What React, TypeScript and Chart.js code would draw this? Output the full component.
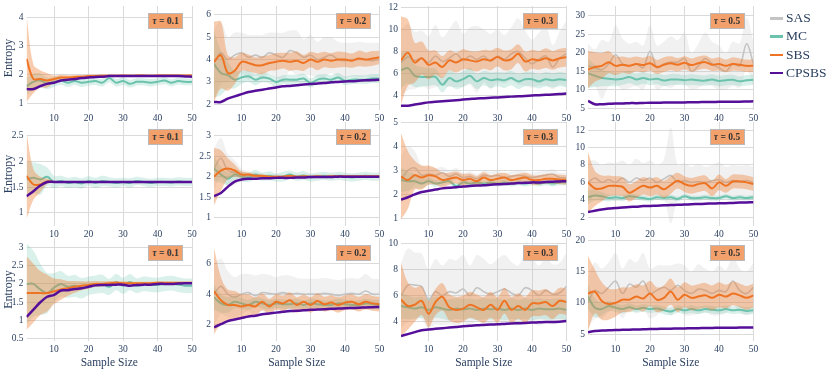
import React, { useEffect, useRef } from 'react';
import { Chart, registerables } from 'chart.js';
Chart.register(...registerables);

// ---------- data ----------
const X = [2, 4, 6, 8, 10, 12, 14, 16, 18, 20, 22, 24, 26, 28, 30, 32, 34, 36, 38, 40, 42, 44, 46, 48, 50];
const X_TICKS = [10, 20, 30, 40, 50];
const TAU = ['0.1', '0.2', '0.3', '0.5'];
const SERIES = ['SAS', 'MC', 'SBS', 'CPSBS'];

const Y_MIN = [0.77, 1.74, 2.71, 4.54, 0.74, 0.79, 0.68, 1.0, 0.445, 0.96, 2.52, 3.88];
const Y_MAX = [4.39, 6.4, 12.12, 32.7, 2.77, 3.34, 5.02, 12.92, 3.25, 7.64, 10.41, 20.4];
const Y_TICKS = [
  [1, 2, 3, 4], [2, 3, 4, 5, 6], [4, 6, 8, 10, 12], [5, 10, 15, 20, 25, 30],
  [1, 1.5, 2, 2.5], [1, 1.5, 2, 2.5, 3], [1, 2, 3, 4, 5], [2, 4, 6, 8, 10, 12],
  [0.5, 1, 1.5, 2, 2.5, 3], [2, 4, 6], [4, 6, 8, 10], [5, 10, 15, 20],
];

const SAS_MEAN = [
  [],
  [3.8, 4.3, 4.0, 4.2, 4.3, 4.1, 4.2, 4.1, 4.3, 4.2, 4.1, 4.4, 4.3, 4.1, 4.2, 4.0, 4.1, 4.2, 4.0, 3.95, 4.0, 4.0, 4.0, 3.95, 4.0],
  [7.0, 7.5, 7.2, 7.4, 7.0, 7.6, 7.1, 7.4, 7.8, 7.2, 7.6, 7.3, 7.6, 7.1, 7.6, 7.3, 7.8, 8.0, 7.4, 6.9, 7.3, 7.6, 6.6, 7.4, 7.8],
  [16.5, 16, 15.5, 17, 19.5, 17, 16.5, 17, 16, 20.5, 16, 17, 17.5, 17.5, 18.5, 15, 16.5, 18.5, 17, 16, 15, 17, 16.5, 22.5, 17],
  [],
  [2.2, 2.45, 2.15, 2.1, 2.05, 2.03, 2.02, 2.02, 2.01, 2.01, 2.01, 2.01, 2.01, 2.01, 2.01, 2.01, 2.01, 2.01, 2.01, 2.01, 2.01, 2.01, 2.01, 2.01, 2.01],
  [2.6, 3.0, 3.1, 2.8, 2.85, 2.8, 2.9, 2.75, 2.85, 2.7, 2.75, 2.65, 2.8, 2.75, 2.8, 2.7, 2.75, 2.8, 2.75, 2.7, 2.75, 2.8, 2.85, 2.7, 2.7],
  [6.0, 6.5, 6.0, 6.3, 6.0, 6.5, 6.0, 6.5, 6.2, 6.5, 6.0, 6.4, 6.8, 6.0, 6.2, 6.0, 6.1, 6.0, 6.2, 6.3, 6.0, 6.2, 6.1, 6.2, 6.0],
  [],
  [4.0, 4.5, 4.0, 3.8, 4.0, 4.1, 3.9, 4.1, 4.05, 4.0, 4.1, 4.0, 4.05, 4.0, 4.0, 4.0, 4.05, 4.0, 3.9, 4.0, 4.05, 4.0, 4.2, 4.0, 4.0],
  [6.0, 6.8, 6.8, 6.7, 5.7, 6.3, 6.0, 6.3, 6.2, 6.5, 6.0, 6.6, 6.3, 6.1, 6.3, 6.5, 6.2, 6.0, 6.6, 6.4, 6.0, 6.4, 6.1, 6.2, 6.7],
  [10, 12, 11.5, 12.5, 13.5, 11.5, 13, 12.5, 13.5, 11.5, 12, 12.5, 12, 12.8, 12, 11.5, 12.2, 12, 11.5, 12, 11.8, 13.5, 12, 11.5, 12.5],
];
const SAS_SPREAD = [
  [],
  [1.6, 1.4, 1.0, 1.0, 0.9, 1.0, 0.9, 1.0, 0.9, 1.0, 1.1, 0.9, 1.0, 0.8, 0.9, 0.8, 0.9, 0.8, 0.8, 0.8, 0.75, 0.8, 0.75, 0.8, 0.75],
  [3.0, 3.0, 2.6, 2.5, 2.4, 2.8, 2.2, 2.6, 3.0, 2.4, 2.6, 3.0, 2.4, 2.5, 2.4, 2.2, 2.4, 3.0, 2.5, 2.2, 2.4, 2.7, 2.0, 2.4, 3.0],
  [6, 5, 8, 6, 8, 7, 6, 6, 6, 7, 6, 6, 7, 6, 7, 5, 6, 7, 6, 6, 5, 6, 6, 7, 6],
  [],
  [0.5, 0.5, 0.4, 0.3, 0.15, 0.1, 0.08, 0.06, 0.05, 0.05, 0.04, 0.04, 0.04, 0.04, 0.04, 0.04, 0.04, 0.04, 0.04, 0.04, 0.04, 0.04, 0.04, 0.04, 0.04],
  [1.0, 1.0, 0.7, 0.4, 0.3, 0.3, 0.25, 0.25, 0.25, 0.2, 0.2, 0.2, 0.2, 0.2, 0.2, 0.2, 0.2, 0.2, 0.2, 0.2, 0.2, 0.2, 0.2, 0.2, 0.2],
  [2.5, 2.0, 2.0, 2.0, 2.2, 2.0, 2.0, 2.2, 2.0, 2.0, 2.0, 2.2, 5.5, 2.0, 2.0, 1.8, 2.0, 1.8, 1.8, 2.0, 1.8, 1.8, 1.8, 1.8, 1.8],
  [],
  [2.0, 1.8, 1.5, 1.3, 1.3, 1.2, 1.3, 1.2, 1.2, 1.1, 1.1, 1.2, 1.0, 1.0, 1.0, 1.0, 1.0, 1.0, 1.0, 1.0, 1.0, 1.0, 1.1, 1.0, 1.0],
  [2.5, 2.8, 2.5, 2.5, 2.3, 2.5, 2.3, 2.5, 2.5, 2.6, 2.3, 2.5, 2.5, 2.3, 2.5, 2.6, 2.4, 2.3, 2.6, 2.5, 2.3, 2.5, 2.3, 2.3, 2.6],
  [4, 4.5, 4, 4, 4.5, 4, 4, 4, 4.5, 4, 4, 3.5, 4, 3.5, 4, 3.5, 4, 3.5, 3.5, 4, 3.5, 4, 3.5, 3.5, 4],
];

const MC_MEAN = [
  [1.6, 1.75, 1.8, 1.7, 1.75, 1.8, 1.72, 1.78, 1.72, 1.75, 1.78, 1.72, 1.88, 1.72, 1.78, 1.68, 1.75, 1.75, 1.72, 1.75, 1.8, 1.72, 1.78, 1.75, 1.75],
  [3.8, 3.4, 3.3, 3.1, 3.2, 3.25, 3.1, 3.2, 3.15, 3.0, 3.1, 3.1, 3.1, 3.15, 2.95, 3.1, 3.15, 3.1, 3.2, 3.05, 3.1, 3.1, 3.1, 3.15, 3.15],
  [6.3, 6.5, 5.8, 5.7, 5.7, 5.7, 5.0, 5.6, 5.3, 5.5, 5.8, 5.3, 5.6, 5.4, 5.5, 5.4, 5.6, 5.3, 5.5, 5.5, 5.3, 5.5, 5.4, 5.5, 5.4],
  [14.5, 13.8, 13.2, 13.0, 12.8, 13.0, 13.5, 12.8, 13.2, 12.8, 13.0, 12.5, 12.8, 12.8, 12.6, 12.8, 12.6, 12.5, 12.8, 12.4, 12.6, 12.7, 12.3, 12.6, 12.7],
  [1.65, 1.68, 1.65, 1.7, 1.6, 1.62, 1.58, 1.6, 1.57, 1.62, 1.58, 1.62, 1.6, 1.58, 1.6, 1.58, 1.62, 1.6, 1.58, 1.6, 1.6, 1.59, 1.61, 1.6, 1.6],
  [2.2, 2.05, 1.95, 2.05, 2.0, 1.98, 2.05, 2.0, 2.02, 1.98, 2.0, 2.05, 2.0, 2.03, 1.98, 2.0, 2.02, 2.0, 2.02, 2.0, 1.98, 2.0, 2.02, 2.0, 2.0],
  [2.6, 2.55, 2.55, 2.45, 2.55, 2.45, 2.5, 2.55, 2.35, 2.5, 2.45, 2.5, 2.45, 2.5, 2.45, 2.5, 2.45, 2.5, 2.45, 2.5, 2.45, 2.5, 2.45, 2.5, 2.5],
  [4.3, 4.5, 4.4, 4.2, 4.3, 4.2, 4.4, 4.3, 4.2, 4.1, 4.3, 4.2, 4.3, 4.1, 4.4, 4.2, 4.2, 4.3, 4.2, 4.2, 4.4, 4.2, 4.3, 4.2, 4.3],
  [2.0, 2.0, 1.85, 1.75, 1.9, 2.0, 1.92, 1.95, 1.88, 1.95, 1.98, 2.0, 1.92, 2.05, 1.95, 2.05, 1.95, 2.0, 1.98, 1.97, 2.0, 2.02, 1.98, 1.95, 1.95],
  [3.8, 3.4, 3.3, 3.5, 3.4, 3.3, 3.5, 3.4, 3.3, 3.4, 3.35, 3.35, 3.4, 3.3, 3.4, 3.35, 3.3, 3.3, 3.4, 3.35, 3.3, 3.3, 3.4, 3.35, 3.3],
  [5.2, 5.1, 5.0, 5.1, 4.9, 5.1, 5.0, 4.9, 5.0, 4.95, 5.0, 4.9, 5.0, 4.95, 5.0, 4.9, 5.0, 4.9, 5.0, 4.9, 5.0, 4.95, 4.95, 5.0, 4.9],
  [11.0, 9.2, 9.0, 9.5, 9.2, 9.0, 9.3, 9.0, 9.2, 9.0, 9.1, 8.8, 8.6, 9.0, 8.8, 9.0, 8.8, 9.0, 8.9, 8.8, 9.0, 8.8, 8.9, 8.7, 8.8],
];
const MC_SPREAD = [
  [0.3, 0.3, 0.25, 0.2, 0.18, 0.15, 0.15, 0.14, 0.15, 0.13, 0.14, 0.13, 0.15, 0.13, 0.14, 0.13, 0.13, 0.12, 0.13, 0.12, 0.13, 0.12, 0.12, 0.12, 0.12],
  [1.5, 1.0, 0.6, 0.4, 0.3, 0.25, 0.25, 0.22, 0.22, 0.22, 0.2, 0.22, 0.22, 0.22, 0.2, 0.22, 0.2, 0.2, 0.2, 0.2, 0.2, 0.2, 0.2, 0.2, 0.2],
  [1.6, 1.4, 1.0, 0.9, 0.8, 0.75, 0.7, 0.7, 0.7, 0.7, 0.7, 0.7, 0.65, 0.7, 0.65, 0.7, 0.65, 0.7, 0.65, 0.65, 0.65, 0.65, 0.65, 0.65, 0.65],
  [4.0, 3.0, 2.2, 2.0, 1.8, 1.7, 1.7, 1.6, 1.6, 1.5, 1.5, 1.5, 1.5, 1.5, 1.4, 1.5, 1.4, 1.4, 1.4, 1.4, 1.4, 1.4, 1.3, 1.4, 1.4],
  [0.35, 0.3, 0.3, 0.18, 0.12, 0.1, 0.1, 0.1, 0.1, 0.09, 0.1, 0.1, 0.09, 0.09, 0.08, 0.09, 0.08, 0.08, 0.08, 0.08, 0.08, 0.08, 0.08, 0.08, 0.08],
  [0.3, 0.2, 0.15, 0.12, 0.12, 0.11, 0.12, 0.1, 0.11, 0.1, 0.12, 0.1, 0.1, 0.11, 0.1, 0.1, 0.1, 0.1, 0.1, 0.1, 0.1, 0.1, 0.1, 0.1, 0.1],
  [0.5, 0.4, 0.3, 0.2, 0.15, 0.14, 0.13, 0.12, 0.12, 0.12, 0.12, 0.12, 0.12, 0.12, 0.12, 0.12, 0.12, 0.12, 0.12, 0.12, 0.12, 0.12, 0.12, 0.12, 0.12],
  [0.8, 0.6, 0.5, 0.4, 0.35, 0.35, 0.3, 0.3, 0.3, 0.3, 0.3, 0.3, 0.3, 0.28, 0.28, 0.28, 0.28, 0.28, 0.28, 0.28, 0.28, 0.28, 0.28, 0.28, 0.28],
  [1.1, 0.9, 0.7, 0.55, 0.4, 0.35, 0.3, 0.3, 0.28, 0.25, 0.25, 0.25, 0.22, 0.22, 0.22, 0.22, 0.2, 0.2, 0.2, 0.2, 0.2, 0.2, 0.2, 0.2, 0.2],
  [0.8, 0.6, 0.5, 0.42, 0.35, 0.32, 0.3, 0.33, 0.3, 0.28, 0.3, 0.32, 0.3, 0.28, 0.3, 0.3, 0.28, 0.3, 0.32, 0.3, 0.28, 0.3, 0.3, 0.28, 0.3],
  [1.0, 0.9, 0.85, 0.8, 0.85, 0.8, 0.78, 0.82, 0.8, 0.8, 0.78, 0.8, 0.82, 0.8, 0.78, 0.8, 0.8, 0.78, 0.8, 0.82, 0.8, 0.78, 0.8, 0.8, 0.8],
  [2.0, 1.5, 1.0, 0.8, 0.7, 0.7, 0.65, 0.6, 0.62, 0.6, 0.6, 0.62, 0.6, 0.58, 0.6, 0.62, 0.6, 0.58, 0.6, 0.6, 0.58, 0.6, 0.6, 0.58, 0.6],
];

const SBS_MEAN = [
  [2.55, 1.85, 1.85, 1.8, 1.85, 1.9, 1.9, 1.92, 1.93, 1.95, 1.95, 1.96, 1.96, 1.96, 1.97, 1.96, 1.97, 1.97, 1.96, 1.97, 1.97, 1.97, 1.97, 1.97, 1.97],
  [3.9, 4.2, 3.4, 3.5, 3.9, 3.85, 3.75, 3.75, 3.85, 3.9, 3.95, 3.9, 3.95, 3.85, 4.0, 3.9, 4.0, 3.95, 4.0, 4.0, 3.95, 4.05, 4.0, 4.05, 4.1],
  [7.2, 7.9, 7.0, 7.4, 6.8, 7.0, 6.6, 7.2, 7.0, 7.3, 7.2, 7.1, 7.3, 7.2, 7.5, 7.2, 7.3, 7.8, 7.1, 7.3, 7.2, 7.4, 7.2, 7.4, 7.5],
  [15.5, 16.2, 16.5, 17.5, 16.5, 16.8, 16.5, 17.0, 16.7, 17.2, 16.2, 16.8, 17.2, 16.8, 17.3, 16.7, 17.2, 17.5, 16.8, 17.0, 16.5, 17.0, 16.8, 16.5, 16.5],
  [1.72, 1.55, 1.55, 1.61, 1.6, 1.6, 1.6, 1.6, 1.6, 1.6, 1.6, 1.6, 1.6, 1.6, 1.6, 1.6, 1.6, 1.6, 1.6, 1.6, 1.6, 1.6, 1.6, 1.6, 1.6],
  [2.0, 2.15, 2.2, 2.15, 2.05, 2.05, 2.02, 2.02, 2.0, 2.0, 2.0, 2.02, 2.0, 2.01, 2.0, 2.01, 2.0, 2.01, 2.01, 2.01, 2.01, 2.01, 2.01, 2.01, 2.01],
  [2.75, 2.6, 2.8, 2.7, 2.8, 2.75, 2.6, 2.65, 2.7, 2.6, 2.65, 2.55, 2.7, 2.6, 2.65, 2.7, 2.6, 2.65, 2.7, 2.6, 2.6, 2.65, 2.65, 2.62, 2.6],
  [6.0, 5.3, 5.3, 5.6, 5.6, 5.5, 4.8, 5.2, 5.6, 5.4, 5.6, 5.2, 5.7, 6.2, 5.8, 5.6, 5.8, 5.9, 5.3, 6.0, 5.6, 6.1, 6.1, 6.0, 5.8],
  [1.75, 1.75, 1.75, 1.75, 1.8, 1.85, 1.88, 1.92, 1.95, 1.97, 2.0, 2.0, 2.02, 2.03, 2.02, 2.02, 2.02, 2.02, 2.02, 2.03, 2.03, 2.03, 2.03, 2.03, 2.03],
  [4.2, 3.6, 3.3, 3.3, 3.2, 3.3, 3.2, 3.5, 3.2, 3.5, 3.4, 3.6, 3.3, 3.5, 3.3, 3.55, 3.35, 3.45, 3.3, 3.45, 3.5, 3.35, 3.5, 3.4, 3.35],
  [5.7, 5.2, 5.3, 5.6, 4.6, 5.5, 5.9, 5.1, 4.9, 5.0, 5.3, 5.1, 4.9, 5.3, 4.9, 5.6, 4.9, 5.2, 4.9, 5.4, 5.4, 5.5, 5.2, 5.6, 5.5],
  [11.5, 11.8, 10.3, 9.8, 10.0, 10.5, 10.5, 11.0, 10.7, 11.5, 10.5, 10.8, 11.8, 10.5, 11.3, 10.8, 11.0, 11.2, 10.8, 11.3, 11.0, 11.5, 11.2, 10.8, 11.2],
];
const SBS_SPREAD = [
  [1.5, 0.5, 0.3, 0.25, 0.12, 0.1, 0.08, 0.07, 0.06, 0.05, 0.05, 0.05, 0.04, 0.04, 0.04, 0.04, 0.04, 0.04, 0.04, 0.04, 0.04, 0.04, 0.04, 0.04, 0.04],
  [1.8, 1.5, 0.8, 0.6, 0.4, 0.38, 0.35, 0.4, 0.36, 0.38, 0.35, 0.4, 0.42, 0.36, 0.35, 0.38, 0.35, 0.34, 0.36, 0.33, 0.32, 0.35, 0.32, 0.33, 0.3],
  [4.0, 3.0, 1.8, 1.5, 1.3, 1.1, 1.0, 0.9, 0.9, 0.9, 0.85, 0.9, 0.85, 0.9, 0.85, 0.9, 0.9, 0.85, 0.9, 0.85, 0.85, 0.9, 0.85, 0.85, 0.85],
  [5.0, 4.0, 3.5, 3.0, 2.5, 2.2, 2.2, 2.0, 2.0, 2.0, 1.9, 2.0, 1.9, 1.8, 1.8, 1.8, 1.8, 1.8, 1.7, 1.8, 1.7, 1.8, 1.7, 1.7, 1.7],
  [0.85, 0.3, 0.15, 0.05, 0.02, 0.01, 0.01, 0.01, 0.01, 0.01, 0.01, 0.01, 0.01, 0.01, 0.01, 0.01, 0.01, 0.01, 0.01, 0.01, 0.01, 0.01, 0.01, 0.01, 0.01],
  [0.7, 0.5, 0.25, 0.15, 0.08, 0.05, 0.04, 0.03, 0.03, 0.02, 0.02, 0.02, 0.02, 0.02, 0.02, 0.02, 0.02, 0.02, 0.02, 0.02, 0.02, 0.02, 0.02, 0.02, 0.02],
  [1.8, 1.2, 0.6, 0.5, 0.4, 0.35, 0.3, 0.25, 0.25, 0.25, 0.22, 0.22, 0.22, 0.2, 0.22, 0.2, 0.2, 0.2, 0.2, 0.2, 0.2, 0.2, 0.2, 0.2, 0.2],
  [3.5, 2.0, 1.5, 1.2, 1.1, 1.1, 1.0, 1.0, 1.0, 1.0, 1.0, 1.0, 1.0, 0.9, 0.9, 0.9, 0.9, 0.9, 0.9, 0.9, 0.8, 0.8, 0.8, 0.8, 0.8],
  [1.0, 0.8, 0.6, 0.5, 0.35, 0.28, 0.2, 0.16, 0.12, 0.1, 0.08, 0.07, 0.06, 0.05, 0.05, 0.04, 0.04, 0.04, 0.04, 0.04, 0.03, 0.03, 0.03, 0.03, 0.03],
  [2.8, 1.5, 1.0, 0.9, 0.8, 0.7, 0.6, 0.55, 0.5, 0.5, 0.5, 0.52, 0.5, 0.48, 0.5, 0.5, 0.48, 0.5, 0.5, 0.48, 0.5, 0.48, 0.5, 0.48, 0.48],
  [2.8, 1.8, 1.3, 1.1, 1.0, 1.0, 1.05, 1.0, 1.0, 1.0, 1.0, 0.98, 1.0, 1.0, 0.98, 1.0, 1.0, 0.98, 1.0, 1.0, 0.98, 1.0, 1.0, 1.0, 1.0],
  [6.0, 3.5, 3.0, 2.5, 2.2, 2.0, 2.0, 2.0, 2.1, 2.0, 2.0, 2.0, 2.1, 2.0, 2.0, 2.0, 2.0, 2.0, 2.0, 2.0, 1.9, 1.9, 1.9, 1.9, 1.9],
];

const CPSBS_MEAN = [
  [1.5, 1.5, 1.6, 1.68, 1.72, 1.8, 1.82, 1.85, 1.88, 1.9, 1.92, 1.93, 1.95, 1.95, 1.95, 1.95, 1.95, 1.95, 1.95, 1.95, 1.95, 1.95, 1.95, 1.94, 1.93],
  [2.1, 2.1, 2.25, 2.35, 2.45, 2.55, 2.6, 2.65, 2.7, 2.75, 2.8, 2.82, 2.85, 2.88, 2.9, 2.93, 2.95, 2.98, 3.0, 3.02, 3.03, 3.05, 3.07, 3.08, 3.1],
  [3.1, 3.1, 3.2, 3.3, 3.4, 3.45, 3.5, 3.55, 3.6, 3.65, 3.7, 3.75, 3.78, 3.82, 3.85, 3.88, 3.92, 3.95, 3.98, 4.02, 4.05, 4.08, 4.12, 4.15, 4.2],
  [7.0, 6.1, 6.1, 6.2, 6.3, 6.3, 6.4, 6.4, 6.45, 6.5, 6.5, 6.55, 6.55, 6.6, 6.6, 6.65, 6.65, 6.7, 6.7, 6.75, 6.75, 6.8, 6.8, 6.85, 6.9],
  [1.32, 1.42, 1.53, 1.6, 1.6, 1.6, 1.6, 1.6, 1.6, 1.6, 1.6, 1.6, 1.6, 1.6, 1.6, 1.6, 1.6, 1.6, 1.6, 1.6, 1.6, 1.6, 1.6, 1.6, 1.6],
  [1.52, 1.6, 1.75, 1.88, 1.93, 1.95, 1.95, 1.96, 1.96, 1.97, 1.97, 1.97, 1.98, 1.98, 1.99, 1.99, 1.99, 1.99, 2.0, 2.0, 2.0, 2.0, 2.0, 2.0, 2.0],
  [1.78, 1.88, 2.0, 2.1, 2.15, 2.2, 2.25, 2.28, 2.3, 2.33, 2.35, 2.37, 2.38, 2.4, 2.42, 2.43, 2.45, 2.47, 2.48, 2.5, 2.5, 2.52, 2.53, 2.54, 2.55],
  [2.6, 2.75, 2.9, 3.0, 3.05, 3.12, 3.18, 3.22, 3.28, 3.3, 3.33, 3.37, 3.4, 3.43, 3.46, 3.5, 3.52, 3.55, 3.58, 3.6, 3.62, 3.65, 3.68, 3.7, 3.72],
  [1.1, 1.3, 1.5, 1.65, 1.7, 1.82, 1.83, 1.86, 1.88, 1.92, 1.96, 1.97, 1.97, 1.98, 1.98, 1.95, 1.97, 1.98, 1.98, 2.0, 2.0, 2.0, 2.01, 2.02, 2.02],
  [1.85, 2.05, 2.25, 2.35, 2.45, 2.55, 2.6, 2.7, 2.75, 2.8, 2.85, 2.9, 2.92, 2.95, 2.98, 3.0, 3.02, 3.05, 3.07, 3.08, 3.1, 3.12, 3.13, 3.15, 3.17],
  [2.9, 3.05, 3.2, 3.35, 3.4, 3.45, 3.5, 3.55, 3.6, 3.65, 3.68, 3.72, 3.75, 3.78, 3.8, 3.83, 3.86, 3.88, 3.9, 3.93, 3.95, 3.97, 3.98, 4.0, 4.05],
  [5.3, 5.5, 5.55, 5.6, 5.65, 5.67, 5.7, 5.73, 5.76, 5.8, 5.82, 5.84, 5.86, 5.88, 5.9, 5.92, 5.94, 5.96, 5.98, 6.0, 6.01, 6.02, 6.03, 6.04, 6.05],
];

// ---------- styles ----------
const FONT = "'Liberation Serif', 'Times New Roman', serif";
const TXT = '#2a3f5f';
const GRID = '#dadada';
const LINE_COLORS = ['#c4c4c4', '#6cc3ad', '#ee7423', '#560f98'];
const FILL_COLORS = ['rgba(190,190,190,0.22)', 'rgba(108,195,173,0.25)', 'rgba(238,128,55,0.40)', 'rgba(86,15,152,0.3)'];
const LINE_W = [1.6, 2, 2, 2.5];

const COL_L = [26.5, 214, 401, 588];
const PLOT_W = 165.5;
const ROW_T = [6, 122, 238];
const ROW_H = [104, 104, 103];

function Panel({ p }: { p: number }) {
  const ref = useRef<HTMLCanvasElement>(null);
  const row = Math.floor(p / 4);
  const col = p % 4;
  const left = col === 0 ? 0 : Math.floor(COL_L[col] - 24);
  const yw = COL_L[col] - left;
  const xh = row === 2 ? 28 : 16;
  const padTop = 6;
  const width = Math.ceil(yw + PLOT_W + 10);
  const padRight = width - yw - PLOT_W;
  const top = ROW_T[row] - padTop;
  const height = padTop + ROW_H[row] + xh;

  useEffect(() => {
    const canvas = ref.current!;
    const datasets: any[] = [];
    const means = [SAS_MEAN[p], MC_MEAN[p], SBS_MEAN[p], CPSBS_MEAN[p]];
    const spreads = [SAS_SPREAD[p], MC_SPREAD[p], SBS_SPREAD[p], []];
    means.forEach((mean, s) => {
      if (!mean || !mean.length) return;
      const sp = spreads[s];
      if (sp && sp.length) {
        datasets.push({
          data: mean.map((m, i) => ({ x: X[i], y: m - sp[i] })),
          borderColor: 'rgba(0,0,0,0)', borderWidth: 0, fill: false,
        });
        datasets.push({
          data: mean.map((m, i) => ({ x: X[i], y: m + sp[i] })),
          borderColor: 'rgba(0,0,0,0)', borderWidth: 0, fill: '-1', backgroundColor: FILL_COLORS[s],
        });
      }
      datasets.push({
        label: SERIES[s],
        data: mean.map((m, i) => ({ x: X[i], y: m })),
        borderColor: LINE_COLORS[s], borderWidth: LINE_W[s], fill: false,
      });
    });
    const n = datasets.length;
    datasets.forEach((d, i) => { d.order = n - i; d.pointRadius = 0; d.tension = 0.35; });

    const tickFont = { family: FONT, size: 9.5 };
    const chart = new Chart(canvas, {
      type: 'line',
      data: { datasets },
      options: {
        responsive: false,
        animation: false,
        events: [],
        layout: { padding: { top: padTop, right: padRight, left: 0, bottom: 0 } },
        plugins: { legend: { display: false }, tooltip: { enabled: false } },
        scales: {
          x: {
            type: 'linear', min: 2, max: 50,
            border: { display: false },
            grid: { color: GRID, drawTicks: false },
            ticks: { font: tickFont, color: TXT, padding: 3, maxRotation: 0, callback: (v: any) => String(+v) },
            afterBuildTicks: (s: any) => { s.ticks = X_TICKS.map((v) => ({ value: v })); },
            afterFit: (s: any) => { s.height = xh; s.paddingLeft = 0; s.paddingRight = 0; },
            title: row === 2
              ? { display: true, text: 'Sample Size', color: TXT, font: { family: FONT, size: 11.5, lineHeight: 1 }, padding: { top: 0, bottom: 0 } }
              : { display: false },
          },
          y: {
            type: 'linear', min: Y_MIN[p], max: Y_MAX[p],
            border: { display: false },
            grid: { color: GRID, drawTicks: false },
            ticks: { font: tickFont, color: TXT, padding: 3, callback: (v: any) => String(+v) },
            afterBuildTicks: (s: any) => { s.ticks = Y_TICKS[p].map((v) => ({ value: v })); },
            afterFit: (s: any) => { s.width = yw; s.paddingTop = 0; s.paddingBottom = 0; },
            title: col === 0
              ? { display: true, text: 'Entropy', color: TXT, font: { family: FONT, size: 12, lineHeight: 1.2 }, padding: { top: 2, bottom: 0 } }
              : { display: false },
          },
        },
      } as any,
    });
    return () => chart.destroy();
  }, []);

  return (
    <canvas
      ref={ref}
      width={width}
      height={height}
      style={{ position: 'absolute', left, top, width, height }}
    />
  );
}

function TauBox({ p }: { p: number }) {
  const row = Math.floor(p / 4);
  const col = p % 4;
  const right = COL_L[col] + PLOT_W - 9;
  return (
    <div
      style={{
        position: 'absolute', left: right - 35, top: ROW_T[row] + 7, width: 33, height: 14,
        background: '#f2a06c', border: '1px solid #b9b9b9',
        fontFamily: FONT, fontSize: 9.5, fontWeight: 'bold', color: '#333',
        lineHeight: '14px', textAlign: 'center', whiteSpace: 'nowrap',
      }}
    >
      <span style={{ fontStyle: 'italic' }}>τ</span> = {TAU[col]}
    </div>
  );
}

function Legend() {
  return (
    <div>
      {SERIES.map((name, i) => (
        <div key={name} style={{ position: 'absolute', left: 770, top: 10 + i * 18.3, height: 16, whiteSpace: 'nowrap' }}>
          <div style={{ position: 'absolute', left: 0, top: 7, width: 13, height: i === 0 ? 2.5 : 2.5, background: LINE_COLORS[i] }} />
          <div style={{ position: 'absolute', left: 16, top: 0, fontFamily: FONT, fontSize: 13.5, lineHeight: '16px', color: TXT }}>{name}</div>
        </div>
      ))}
    </div>
  );
}

export default function App() {
  const panels = Array.from({ length: 12 }, (_, p) => p);
  return (
    <div style={{ position: 'absolute', left: 0, top: 0, width: 830, height: 369, overflow: 'hidden', background: '#fff' }}>
      {panels.map((p) => <Panel key={'c' + p} p={p} />)}
      {panels.map((p) => <TauBox key={'t' + p} p={p} />)}
      <Legend />
    </div>
  );
}
